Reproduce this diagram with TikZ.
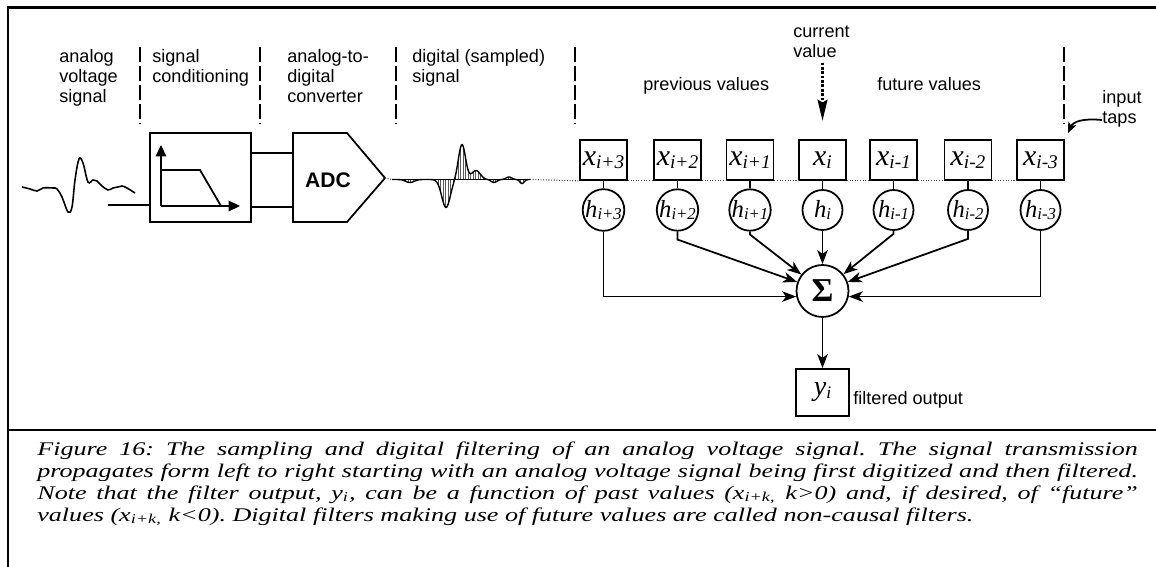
\documentclass[tikz,border=0pt]{standalone}
\usepackage{fontspec}
\setmainfont{Liberation Serif}
\newfontfamily\arialf{Liberation Sans}
\usetikzlibrary{arrows.meta,calc}
\frenchspacing
\newcommand\xv[1]{{\fontsize{17}{17}\selectfont\itshape x\raisebox{-1.5pt}{\fontsize{11}{11}\selectfont #1}}}
\newcommand\hv[1]{{\fontsize{14}{14}\selectfont\itshape h\raisebox{-1.5pt}{\fontsize{9.5}{9.5}\selectfont #1}}}
\newcommand\capl[1]{\scalebox{1.35}[1]{\makebox[464pt][s]{#1}}}
\newcommand\capn[1]{\scalebox{1.35}[1]{#1}}
\begin{document}
\begin{tikzpicture}[x=0.02cm,y=-0.02cm,
  declare function={g(\a,\c,\w)=exp(-min(((\a-\c)/\w)^2,9));
    sig(\a)=3*g(\a,410,6)+28*g(\a,446,6)-35*g(\a,462,5)-9*g(\a,476,6)+3*g(\a,494,4)-2.5*g(\a,509,4)+4*g(\a,522,3);},
  lab/.style={font=\arialf\fontsize{10.3}{12}\selectfont, anchor=base west, inner sep=0},
  capt/.style={font=\fontsize{11}{13}\selectfont\itshape, anchor=base west, inner sep=0},
  xbox/.style={draw, line width=1pt, fill=white, minimum width=0.94cm, minimum height=0.8cm, inner sep=0},
  hcirc/.style={circle, draw, line width=1pt, fill=white, minimum size=0.8cm, inner sep=0},
  sumc/.style={circle, draw, line width=1pt, minimum size=1.04cm, inner sep=0},
  ybox/.style={draw, line width=1pt, minimum width=1.06cm, minimum height=0.94cm, inner sep=0},
  fbox/.style={draw, line width=1pt, minimum width=2.02cm, minimum height=1.78cm, inner sep=0},
  conn/.style={line width=1pt},
  arr/.style={line width=1pt, -{Stealth[length=8pt,width=6pt,inset=2.2pt]}},
  dots/.style={line width=0.6pt, black!70, dash pattern=on 0.6pt off 0.9pt},
  divider/.style={line width=1pt, dash pattern=on 8.5pt off 2.3pt},
  curarr/.style={line width=1.8pt, dash pattern=on 1.5pt off 1pt, -{Stealth[length=12pt,width=5.5pt,inset=1.5pt]}},
  taparr/.style={line width=1pt, -{Stealth[length=6pt,width=5pt,inset=1.5pt]}},
  axarr/.style={line width=1pt, -{Triangle[length=6.5pt,width=6pt]}},
  stem/.style={line width=0.35pt, black!65},
  wave/.style={line width=0.9pt}
]
\useasboundingbox (0,0) rectangle (1156,567);
% frame
\draw[line width=1.7pt] (8,567) -- (8,7.5) -- (1156,7.5);
\draw[line width=1.2pt] (8,430) -- (1156,430);

% top labels
\node[lab] (a1) at (59,63) {analog};
\node[lab] (a2) at (59,83) {voltage};
\node[lab] (a3) at (59,103) {signal};
\node[lab] (b1) at (152,63) {signal};
\node[lab] (b2) at (152,83) {conditioning};
\node[lab] (c1) at (287,63) {analog-to-};
\node[lab] (c2) at (287,83) {digital};
\node[lab] (c3) at (287,103) {converter};
\node[lab] (d1) at (412,63) {digital (sampled)};
\node[lab] (d2) at (412,83) {signal};
\node[lab] (pv) at (643,91) {previous values};
\node[lab] (fv) at (877,91) {future values};
\node[lab] (cv1) at (793,38) {current};
\node[lab] (cv2) at (793,58) {value};
\node[lab] (it1) at (1102,104) {input};
\node[lab] (it2) at (1102,124) {taps};
\node[lab] (fo) at (853,404) {filtered output};

% dividers
\foreach \dx in {140,260,396,575,1064}
  \draw[divider] (\dx,47) -- (\dx,123);

% analog waveform
\draw[wave] plot[smooth, tension=0.6] coordinates {(22,187) (30,189) (37,191) (43,188) (53,188) (57,189) (62,197) (68,212) (72,207) (75,180) (79,159) (83,163) (88,182) (93,180) (97,181) (102,186) (108,190) (113,188) (118,187) (122,186) (127,188) (135,193)};

% filter box
\node[fbox] (fb) at (200.5,177.5) {};
\coordinate (ain) at (108,205);
\draw[conn] (ain) -- (ain -| fb.west);
\coordinate (ax0) at (161,206);
\draw[axarr] (ax0) -- (161,145);
\draw[axarr] (ax0) -- (240,206);
\draw[line width=1pt] (161,170) -- (200,170) -- (221,206);

% ADC
\coordinate (adcA) at (293,153);
\coordinate (adcB) at (293,207);
\coordinate (adcTip) at (385,178);
\draw[line width=1pt] (293,133) -- (347,133) -- (adcTip) -- (347,222) -- (293,222) -- cycle;
\node[font=\arialf\bfseries\fontsize{12}{14}\selectfont, inner sep=0] (adc) at (328,180) {ADC};
\draw[conn] (fb.east |- adcA) -- (adcA);
\draw[conn] (fb.east |- adcB) -- (adcB);

% sampled signal
\coordinate (sigS) at (392,179.5);
\coordinate (sigE) at (530,179.5);
\draw[dots] (adcTip) -- (sigS);
\foreach \sx in {393,395.5,...,530}
  \draw[stem] (\sx,179.5) -- (\sx,{179.5+sig(\sx)});
\draw[line width=0.5pt] (sigS) -- (sigE);
\draw[line width=0.8pt] plot[domain=392:530, samples=150, smooth] (\x,{179.5+sig(\x)});

% tap boxes
\node[xbox] (x3) at (603.5,160) {\xv{i+3}};
\node[xbox] (x2) at (677.5,160) {\xv{i+2}};
\node[xbox] (x1) at (750,160) {\xv{i+1}};
\node[xbox] (x0) at (822.5,160) {\xv{i}};
\node[xbox] (xm1) at (893.5,160) {\xv{i-1}};
\node[xbox] (xm2) at (968,160) {\xv{i-2}};
\node[xbox] (xm3) at (1040.5,160) {\xv{i-3}};
\draw[dots] (sigE) -- (x3.south west);
\draw[dots] (x3.south east) -- (x2.south west);
\draw[dots] (x2.south east) -- (x1.south west);
\draw[dots] (x1.south east) -- (x0.south west);
\draw[dots] (x0.south east) -- (xm1.south west);
\draw[dots] (xm1.south east) -- (xm2.south west);
\draw[dots] (xm2.south east) -- (xm3.south west);

% coefficient circles
\node[hcirc] (h3) at (603.5,210) {\hv{i+3}};
\node[hcirc] (h2) at (677.5,210) {\hv{i+2}};
\node[hcirc] (h1) at (750,210) {\hv{i+1}};
\node[hcirc] (h0) at (822.5,210) {\hv{i}};
\node[hcirc] (hm1) at (893.5,210) {\hv{i-1}};
\node[hcirc] (hm2) at (968,210) {\hv{i-2}};
\node[hcirc] (hm3) at (1040.5,210) {\hv{i-3}};
\foreach \n in {3,2,1,0,m1,m2,m3}
  \draw[conn] (x\n.south) -- (h\n.north);

% sum
\node[sumc] (sum) at (822.5,291) {\fontsize{19}{19}\selectfont\bfseries Σ};
\draw[arr] (h3.south) |- (sum.192);
\draw[arr] (h2.south) -- ++(0,8) -- (sum);
\draw[arr] (h1.south) -- ++(0,3) -- (sum);
\draw[arr] (h0) -- (sum);
\draw[arr] (hm1.south) -- ++(0,3) -- (sum);
\draw[arr] (hm2.south) -- ++(0,8) -- (sum);
\draw[arr] (hm3.south) |- (sum.348);

% output
\node[ybox] (yb) at (822.5,392.5) {\fontsize{16}{16}\selectfont\itshape y\raisebox{-1.5pt}{\fontsize{10}{10}\selectfont i}};
\draw[arr] (sum) -- (yb);

% current value arrow
\coordinate (cve) at (822.5,121);
\draw[curarr] (cv2.south -| cve) ++(0,4) -- (cve);

% input taps arrow
\coordinate (tapt) at (1068,133);
\draw[taparr] (it2.west) .. controls (1082,118) and (1073,122) .. (tapt);

% caption
\node[capt] (cap1) at (37,455) {\capl{Figure 16: The sampling and digital filtering of an analog voltage signal. The signal transmission}};
\node[capt] (cap2) at (37,477) {\capl{propagates form left to right starting with an analog voltage signal being first digitized and then filtered.}};
\node[capt] (cap3) at (37,499) {\capl{Note that the filter output, y\textsubscript{i}, can be a function of past values (x\textsubscript{i+k,} k>0) and, if desired, of “future”}};
\node[capt] (cap4) at (37,521) {\capn{values (x\textsubscript{i+k,} k<0). Digital filters making use of future values are called non-causal filters.}};
\end{tikzpicture}
\end{document}
